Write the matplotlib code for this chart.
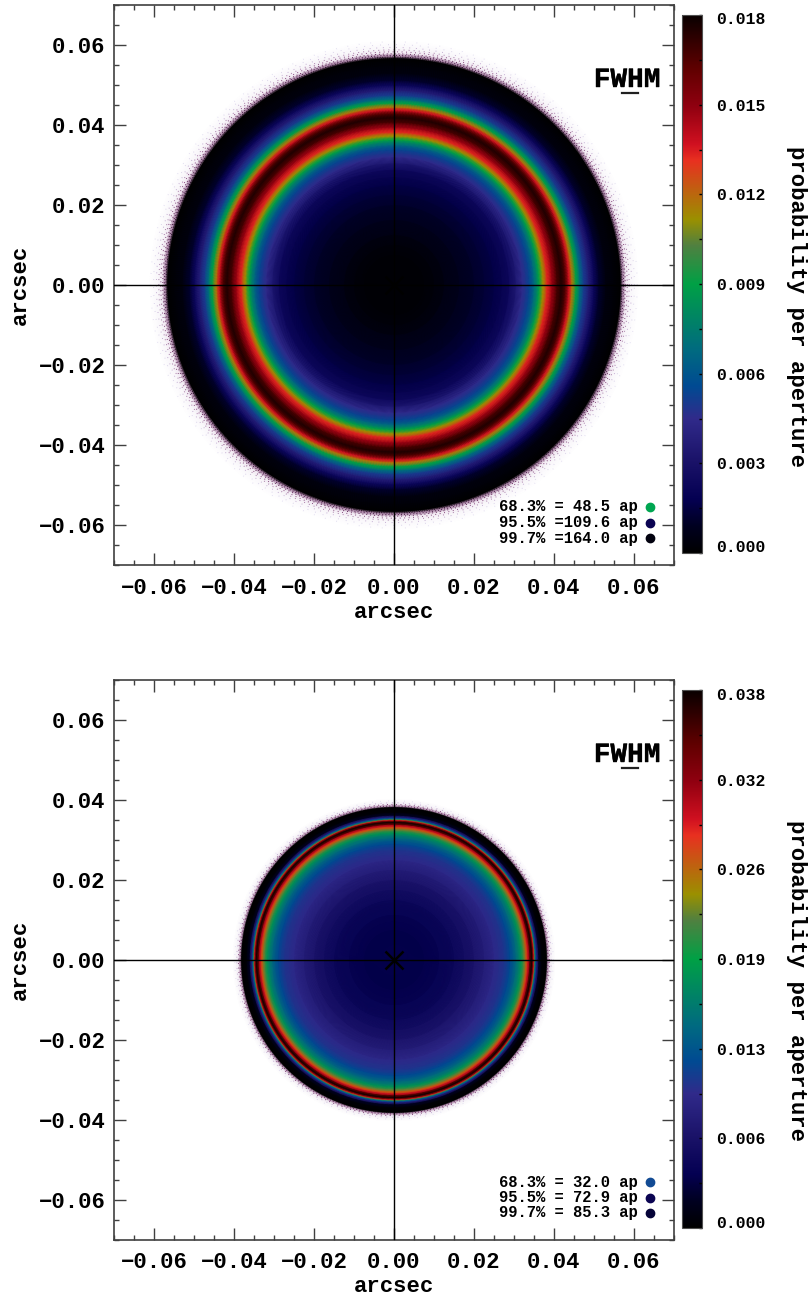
import matplotlib
matplotlib.use("Agg")
import matplotlib.pyplot as plt
import matplotlib.patheffects as pe
import numpy as np
from matplotlib.colors import LinearSegmentedColormap, Normalize
from matplotlib.transforms import ScaledTranslation

plt.rcParams['font.family'] = ['Liberation Mono', 'DejaVu Sans Mono']
plt.rcParams['font.weight'] = 'bold'

W, H = 810, 1298

# radial profile of the top map (arcsec, probability per aperture)
r_top = [0.0, 0.0075, 0.0125, 0.02, 0.025, 0.0288, 0.032, 0.0338, 0.035, 0.03625, 0.03725, 0.03825,
         0.0395, 0.04075, 0.0418, 0.0428, 0.04375, 0.0445, 0.0455, 0.0465, 0.0475, 0.04875, 0.05, 0.05125,
         0.053, 0.0565]
p_top = [0.0001, 0.0002, 0.0005, 0.0011, 0.0016, 0.0024, 0.0045, 0.0054, 0.0068, 0.009, 0.0112, 0.0133,
         0.0148, 0.0168, 0.0175, 0.0165, 0.0137, 0.0117, 0.009, 0.0068, 0.005, 0.0036, 0.0022, 0.0011,
         0.0004, 0.00005]

# radial profile of the bottom map
r_bot = [0.0, 0.0075, 0.015, 0.02, 0.025, 0.0275, 0.029, 0.0305, 0.03175, 0.0325, 0.033, 0.0335,
         0.034, 0.0344, 0.0347, 0.035, 0.0352, 0.03535, 0.0355, 0.03575, 0.03625, 0.037, 0.038]
p_bot = [0.0035, 0.0036, 0.005, 0.0068, 0.0094, 0.0104, 0.0119, 0.0146, 0.018, 0.0223, 0.0261, 0.0292,
         0.0353, 0.038, 0.0346, 0.0288, 0.0211, 0.0146, 0.0115, 0.0077, 0.0019, 0.0004, 0.0001]

# speckled rim, as seen averaged along the radius
rim_top_r = [0.0545, 0.0565, 0.0572, 0.058, 0.059, 0.06, 0.061]
rim_top_v = [1.0, 0.95, 0.5, 0.2, 0.1, 0.05, 0.0]
rim_bot_r = [0.0365, 0.038, 0.0385, 0.039, 0.0396, 0.0402]
rim_bot_v = [1.0, 0.95, 0.45, 0.18, 0.08, 0.0]

# dotted circles giving the grainy look of the rim
grain_top_r = [0.0566, 0.057, 0.0574, 0.0578, 0.0583, 0.0588, 0.0594, 0.0601, 0.0608]
grain_top_c = ['#100510', '#200a20', '#3a1038', '#5a1850', '#7a3870', '#a070a0', '#c0a8d0', '#d8d0e8', '#e0dcf0']
grain_top_gap = [1.1, 1.7, 2.3, 3.1, 3.7, 4.3, 5.9, 7.3, 11.0]
grain_bot_r = [0.0381, 0.0385, 0.0389, 0.0393, 0.0398]
grain_bot_c = ['#200a20', '#5a1850', '#7a3870', '#c0a8d0', '#e0dcf0']
grain_bot_gap = [1.3, 2.3, 3.7, 4.9, 7.3]

vmax_top = 0.018
vmax_bot = 0.0384
cb_labels_top = ['0.000', '0.003', '0.006', '0.009', '0.012', '0.015', '0.018']
cb_labels_bot = ['0.000', '0.006', '0.013', '0.019', '0.026', '0.032', '0.038']

legend_top = ['68.3% = 48.5 ap', '95.5% =109.6 ap', '99.7% =164.0 ap']
legend_bot = ['68.3% = 32.0 ap', '95.5% = 72.9 ap', '99.7% = 85.3 ap']
dots_top = ['#00a651', '#0b0452', '#02010f']
dots_bot = ['#124b94', '#0b0452', '#050338']

ticks = [-0.06, -0.04, -0.02, 0.0, 0.02, 0.04, 0.06]
ticklabels = ['\u22120.06', '\u22120.04', '\u22120.02', '0.00', '0.02', '0.04', '0.06']

cmap = LinearSegmentedColormap.from_list('rainbowdark', [
    (0.0, '#000000'), (0.05, '#000020'), (0.1, '#040052'), (0.17, '#1a1268'), (0.25, '#302a8a'),
    (0.31, '#004a92'), (0.377, '#006a80'), (0.5, '#00a045'), (0.572, '#508040'), (0.62, '#9a9000'),
    (0.675, '#c06010'), (0.73, '#e83020'), (0.76, '#d01020'), (0.83, '#900010'), (0.9, '#600000'),
    (0.955, '#300000'), (1.0, '#080000')], N=1024)
rimcmap = LinearSegmentedColormap.from_list('rim', [
    (0.0, '#ffffff'), (0.15, '#f6f2f8'), (0.35, '#e4d0e4'), (0.7, '#5a1850'), (0.95, '#000000'), (1.0, '#000000')])

fig = plt.figure(figsize=(W / 100, H / 100), dpi=100)


def polar_mesh(r, v, ax, cm, norm):
    th = np.linspace(0, 2 * np.pi, 721)
    rr, tt = np.meshgrid(np.array(r), th)
    vv = np.tile(np.array(v), (len(th), 1))
    return ax.pcolormesh(rr * np.cos(tt), rr * np.sin(tt), vv, shading='gouraud', cmap=cm, norm=norm, zorder=1)


def panel(dy, r, p, rim_r, rim_v, grain_r, grain_c, grain_gap, vmax, cb_labels, legend, dots):
    ax = fig.add_axes([114 / W, 1 - (565 + dy) / H, 560 / W, 560 / H])
    polar_mesh(rim_r, rim_v, ax, rimcmap, Normalize(0, 1))
    th = np.linspace(0, 2 * np.pi, 1441)
    for gr, gc, gap in zip(grain_r, grain_c, grain_gap):
        ax.plot(gr * np.cos(th), gr * np.sin(th), color=gc, lw=0.7, ls=(0, (0.9, gap)), zorder=1.2)
    m = polar_mesh(r, p, ax, cmap, Normalize(0, vmax))
    m.set_zorder(1.5)
    ax.set_xlim(-0.07, 0.07)
    ax.set_ylim(-0.07, 0.07)
    ax.axhline(0, color='black', lw=1.0, zorder=3)
    ax.axvline(0, color='black', lw=1.0, zorder=3)
    ax.plot([0], [0], marker='x', ms=13, mew=1.8, color='black', zorder=4)

    ax.set_xticks(ticks)
    ax.set_xticklabels(ticklabels)
    ax.set_yticks(ticks)
    ax.set_yticklabels(ticklabels)
    ax.xaxis.set_minor_locator(plt.MultipleLocator(0.005))
    ax.yaxis.set_minor_locator(plt.MultipleLocator(0.005))
    ax.tick_params(which='major', direction='in', length=8.5, width=1.0, color='#404040',
                   top=True, right=True, labelsize=16, pad=9)
    ax.tick_params(which='minor', direction='in', length=3.8, width=1.0, color='#404040',
                   top=True, right=True)
    ax.tick_params(axis='y', which='major', pad=6)
    for s in ax.spines.values():
        s.set_color('#404040')
        s.set_linewidth(1.2)

    fig.text(394 / W, 1 - (612 + dy) / H, 'arcsec', ha='center', va='center', fontsize=16)
    fig.text(20 / W, 1 - (285 + dy) / H, 'arcsec', ha='center', va='center', rotation=90, fontsize=16)

    # FWHM mark
    fig.text(627 / W, 1 - (80 + dy) / H, 'FWHM', ha='center', va='center', fontsize=20,
             path_effects=[pe.withStroke(linewidth=0.3, foreground='black')])
    fig.add_artist(plt.Line2D([622 / W, 638 / W], [1 - (93 + dy) / H] * 2, color='#202020', lw=1.6))

    # enclosed probability list
    for i, (txt, c) in enumerate(zip(legend, dots)):
        y = 507 + i * 15.5 + dy
        fig.text(499 / W, 1 - y / H, txt, ha='left', va='center', fontsize=11.2)
        ax.plot([(650 - 394) / 4000], [(285 + dy - y) / 4000], 'o', ms=6, color=c, zorder=5)

    cax = fig.add_axes([682 / W, 1 - (553 + dy) / H, 20 / W, 538 / H])
    cb = fig.colorbar(m, cax=cax)
    cb.set_ticks(list(np.arange(13) * vmax / 12))
    cb.set_ticklabels([cb_labels[i // 2] if i % 2 == 0 else '' for i in range(13)])
    cax.tick_params(direction='in', length=2.5, width=1.0, color='black', labelsize=11.8, pad=10)
    tl = cax.get_yticklabels()
    tl[0].set_verticalalignment('center')
    tl[0].set_transform(tl[0].get_transform() + ScaledTranslation(0, 5 / 100, fig.dpi_scale_trans))
    tl[-1].set_verticalalignment('center')
    tl[-1].set_transform(tl[-1].get_transform() + ScaledTranslation(0, -5 / 100, fig.dpi_scale_trans))
    cb.outline.set_edgecolor('#505050')
    cb.outline.set_linewidth(0.8)

    fig.text(797 / W, 1 - (306 + dy) / H, 'probability per aperture', ha='center', va='center',
             rotation=270, fontsize=16)


panel(0, r_top, p_top, rim_top_r, rim_top_v, grain_top_r, grain_top_c, grain_top_gap,
      vmax_top, cb_labels_top, legend_top, dots_top)
panel(675, r_bot, p_bot, rim_bot_r, rim_bot_v, grain_bot_r, grain_bot_c, grain_bot_gap,
      vmax_bot, cb_labels_bot, legend_bot, dots_bot)

fig.savefig('out.png', dpi=100)
